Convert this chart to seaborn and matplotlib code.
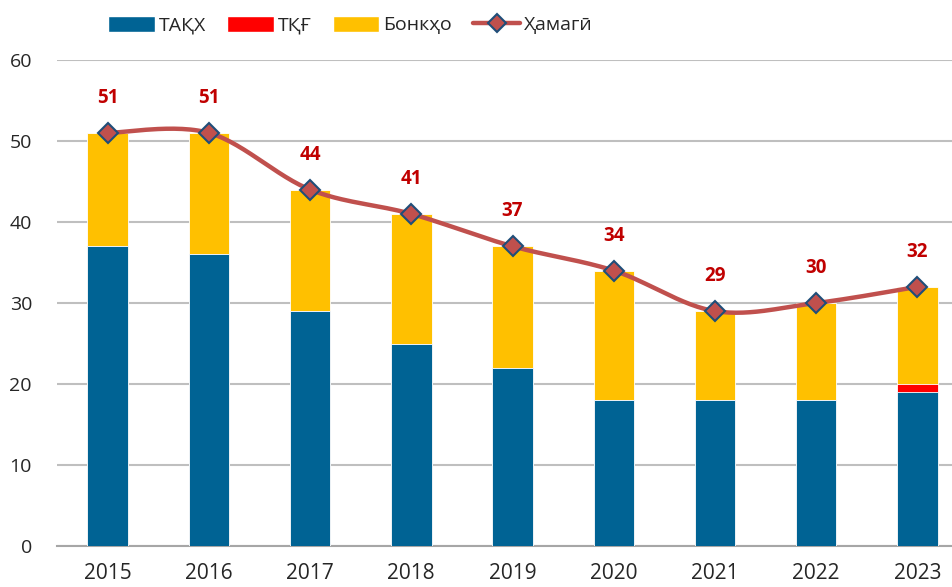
import matplotlib
matplotlib.use("Agg")
import matplotlib.pyplot as plt
import numpy as np
import pandas as pd
import seaborn as sns
from matplotlib.lines import Line2D
from matplotlib.patches import Patch

YEARS = ["2015", "2016", "2017", "2018", "2019", "2020", "2021", "2022", "2023"]
TAQH = [37, 36, 29, 25, 22, 18, 18, 18, 19]
TQG = [0, 0, 0, 0, 0, 0, 0, 0, 1]
BANKS = [14, 15, 15, 16, 15, 16, 11, 12, 12]
TOTAL = [51, 51, 44, 41, 37, 34, 29, 30, 32]
LEGEND_LABELS = ["ТАҚХ", "ТҚҒ", "Бонкҳо", "Ҳамагӣ"]

BLUE = "#006394"
RED = "#FF0000"
YELLOW = "#FFC000"
LINE = "#C0504D"
MARKER_EDGE = "#1F4E79"
GRID = "#BFBFBF"

sns.set_style("white")
plt.rcParams["font.family"] = ["Open Sans", "DejaVu Sans"]

df = pd.DataFrame({"year": YEARS, "taqh": TAQH, "tqg": TQG, "banks": BANKS, "total": TOTAL})
df["lvl1"] = df["taqh"]
df["lvl2"] = df["taqh"] + df["tqg"]
df["lvl3"] = df["lvl2"] + df["banks"]


def smooth_curve(y, steps=30):
    # Excel-style smoothed line (cubic Bezier through points, tension 1/6)
    x = np.arange(len(y), dtype=float)
    y = np.asarray(y, dtype=float)
    px = np.concatenate([[x[0]], x, [x[-1]]])
    py = np.concatenate([[y[0]], y, [y[-1]]])
    xs, ys = [], []
    t = np.linspace(0, 1, steps)
    for i in range(1, len(px) - 2):
        p0 = np.array([px[i], py[i]])
        p3 = np.array([px[i + 1], py[i + 1]])
        c1 = p0 + (p3 - np.array([px[i - 1], py[i - 1]])) / 6
        c2 = p3 - (np.array([px[i + 2], py[i + 2]]) - p0) / 6
        pts = ((1 - t) ** 3)[:, None] * p0 + (3 * (1 - t) ** 2 * t)[:, None] * c1 \
            + (3 * (1 - t) * t ** 2)[:, None] * c2 + (t ** 3)[:, None] * p3
        xs.append(pts[:, 0])
        ys.append(pts[:, 1])
    return np.concatenate(xs), np.concatenate(ys)


fig = plt.figure(figsize=(9.53, 5.87), dpi=100)
ax = fig.add_axes([0.0598, 0.0698, 0.956, 0.828])

bar_kw = dict(width=0.4, edgecolor="white", linewidth=0.6, zorder=2)
sns.barplot(data=df, x="year", y="lvl3", color=YELLOW, saturation=1, ax=ax, **bar_kw)
sns.barplot(data=df, x="year", y="lvl2", color=RED, saturation=1, ax=ax, **bar_kw)
sns.barplot(data=df, x="year", y="lvl1", color=BLUE, saturation=1, ax=ax, **bar_kw)

sx, sy = smooth_curve(df["total"])
ax.plot(sx, sy, color=LINE, lw=3.2, solid_capstyle="round", zorder=3)
ax.plot(np.arange(len(YEARS)), df["total"], ls="none", marker="D", ms=10,
        mfc=LINE, mec=MARKER_EDGE, mew=1.5, zorder=4)

for i, v in enumerate(df["total"]):
    ax.annotate(f"{v}", (i, v), xytext=(0, 18), textcoords="offset points",
                ha="center", va="bottom", color="#C00000", fontsize=13.5, fontweight="bold")

ax.set_ylim(0, 60)
ax.set_xlim(-0.5, len(YEARS) - 0.5)
ax.set_yticks(range(0, 61, 10))
ax.yaxis.grid(True, color=GRID, lw=1.5, zorder=0)
ax.set_axisbelow(True)
ax.set_xlabel("")
ax.set_ylabel("")
for s in ["top", "right", "left"]:
    ax.spines[s].set_visible(False)
ax.spines["bottom"].set_color("#A6A6A6")
ax.spines["bottom"].set_linewidth(1.5)
ax.spines["bottom"].set_zorder(1)

ax.set_xticks(np.arange(len(YEARS)))
ax.set_xticklabels(YEARS, fontsize=15)
ax.set_xticks(np.arange(len(YEARS) + 1) - 0.5, minor=True)
ax.tick_params(axis="x", which="major", length=0, pad=12)
ax.tick_params(axis="x", which="minor", length=7, width=1.5, color="#A6A6A6", direction="out")
ax.tick_params(axis="y", length=0, labelsize=14, pad=18)

handles = [
    Patch(facecolor=BLUE),
    Patch(facecolor=RED),
    Patch(facecolor=YELLOW),
    Line2D([0], [0], color=LINE, lw=3.2, marker="D", ms=9, mfc=LINE, mec=MARKER_EDGE, mew=1.5),
]
fig.legend(handles, LEGEND_LABELS, loc="center left", bbox_to_anchor=(0.105, 0.957),
           ncol=4, frameon=False, fontsize=14, handlelength=2.4, handleheight=0.85,
           handletextpad=0.2, columnspacing=1.1, borderaxespad=0)

fig.savefig("out.png", dpi=100)
